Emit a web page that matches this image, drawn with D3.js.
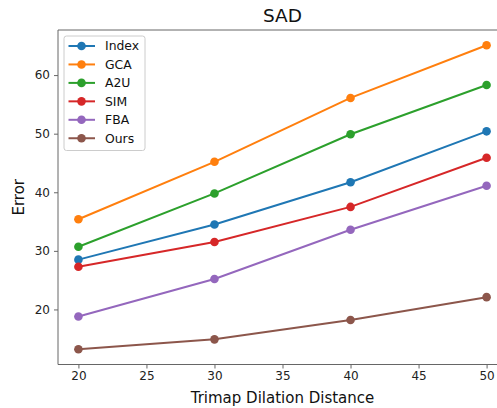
<!DOCTYPE html>
<html>
<head>
<meta charset="utf-8">
<script src="https://cdn.jsdelivr.net/npm/d3@7"></script>
<style>
  body { margin: 0; background: #fff; }
  svg { display: block; font-family: "DejaVu Sans", sans-serif; }
</style>
</head>
<body>
<div id="chart"></div>
<script>
// chart data
var distances = [20, 30, 40, 50];
var seriesNames = ["Index", "GCA", "A2U", "SIM", "FBA", "Ours"];
var indexVals = [28.5, 34.5, 41.7, 50.4];
var gcaVals = [35.4, 45.2, 56.1, 65.1];
var a2uVals = [30.7, 39.8, 49.9, 58.3];
var simVals = [27.3, 31.5, 37.5, 45.9];
var fbaVals = [18.8, 25.2, 33.6, 41.1];
var oursVals = [13.2, 14.9, 18.2, 22.1];
var xTicks = [20, 25, 30, 35, 40, 45, 50];
var yTicks = [20, 30, 40, 50, 60];

var colors = ["#1f77b4", "#ff7f0e", "#2ca02c", "#d62728", "#9467bd", "#8c564b"];
var series = [indexVals, gcaVals, a2uVals, simVals, fbaVals, oursVals].map(function(v, i) {
  return { name: seriesNames[i], values: v, color: colors[i] };
});

var width = 497, height = 408;
//plot box, right edge runs past the picture like in the reference
//(don't call these top/left, window.top is read only)
var plotL = 58, plotR = 507, plotT = 30, plotB = 364.5;
var spineColor = "#666";

var svg = d3.select("#chart").append("svg")
  .attr("width", width)
  .attr("height", height);

//matplotlib style 5% padding on both axes
var xPad = (d3.max(distances) - d3.min(distances)) * 0.05;
var x = d3.scaleLinear()
  .domain([d3.min(distances) - xPad, d3.max(distances) + xPad])
  .range([plotL, plotR]);

var allVals = d3.merge(series.map(function(s) { return s.values; }));
var yMin = d3.min(allVals), yMax = d3.max(allVals);
var yPad = (yMax - yMin) * 0.05;
var y = d3.scaleLinear()
  .domain([yMin - yPad, yMax + yPad])
  .range([plotB, plotT]);

//axes
var xAxis = svg.append("g")
  .attr("transform", "translate(0," + plotB + ")")
  .call(d3.axisBottom(x).tickValues(xTicks).tickSize(4).tickPadding(3).tickSizeOuter(0));
var yAxis = svg.append("g")
  .attr("transform", "translate(" + plotL + ",0)")
  .call(d3.axisLeft(y).tickValues(yTicks).tickSize(4).tickPadding(4).tickSizeOuter(0));

[xAxis, yAxis].forEach(function(ax) {
  ax.select(".domain").remove();
  ax.selectAll(".tick line").attr("stroke", spineColor).attr("stroke-width", 1);
  ax.selectAll(".tick text")
    .attr("fill", "#222")
    .style("font-size", "12px")
    .style("font-family", "DejaVu Sans");
});

//spines
svg.append("path")
  .attr("d", "M" + plotL + "," + plotB + "V" + plotT + "H" + plotR)
  .attr("fill", "none")
  .attr("stroke", spineColor)
  .attr("stroke-width", 1);
svg.append("line")
  .attr("x1", plotL).attr("x2", plotR)
  .attr("y1", plotB).attr("y2", plotB)
  .attr("stroke", spineColor)
  .attr("stroke-width", 1);

//lines + markers
var line = d3.line()
  .x(function(d, i) { return x(distances[i]); })
  .y(function(d) { return y(d); });

var groups = svg.selectAll(".series")
  .data(series)
  .enter().append("g")
  .attr("class", "series");

groups.append("path")
  .attr("d", function(d) { return line(d.values); })
  .attr("fill", "none")
  .attr("stroke", function(d) { return d.color; })
  .attr("stroke-width", 2);

groups.selectAll("circle")
  .data(function(d) { return d.values.map(function(v, i) { return { v: v, i: i, color: d.color }; }); })
  .enter().append("circle")
  .attr("cx", function(d) { return x(distances[d.i]); })
  .attr("cy", function(d) { return y(d.v); })
  .attr("r", 4.3)
  .attr("fill", function(d) { return d.color; });

//title and axis labels
svg.append("text")
  .attr("x", (plotL + plotR) / 2)
  .attr("y", 22)
  .attr("text-anchor", "middle")
  .style("font-size", "18.5px")
  .attr("fill", "#111")
  .text("SAD");

svg.append("text")
  .attr("x", (plotL + plotR) / 2)
  .attr("y", 402.5)
  .attr("text-anchor", "middle")
  .style("font-size", "15px")
  .attr("fill", "#111")
  .text("Trimap Dilation Distance");

svg.append("text")
  .attr("transform", "translate(24," + ((plotT + plotB) / 2) + ") rotate(-90)")
  .attr("text-anchor", "middle")
  .style("font-size", "15px")
  .attr("fill", "#111")
  .text("Error");

//legend
var legend = svg.append("g").attr("transform", "translate(64,36)");
legend.append("rect")
  .attr("x", 0).attr("y", 0)
  .attr("width", 81).attr("height", 114.5)
  .attr("rx", 2.5)
  .attr("fill", "#fff")
  .attr("fill-opacity", 0.8)
  .attr("stroke", "#ccc")
  .attr("stroke-width", 1);

var rowH = 18.45;
var items = legend.selectAll(".item")
  .data(series)
  .enter().append("g")
  .attr("class", "item")
  .attr("transform", function(d, i) { return "translate(0," + (10 + i * rowH) + ")"; });
items.append("line")
  .attr("x1", 4.5).attr("x2", 31)
  .attr("stroke", function(d) { return d.color; })
  .attr("stroke-width", 2);
items.append("circle")
  .attr("cx", 17.5).attr("r", 4.3)
  .attr("fill", function(d) { return d.color; });
items.append("text")
  .attr("x", 41)
  .attr("dy", "0.36em")
  .style("font-size", "12.4px")
  .attr("fill", "#111")
  .text(function(d) { return d.name; });
</script>
</body>
</html>
